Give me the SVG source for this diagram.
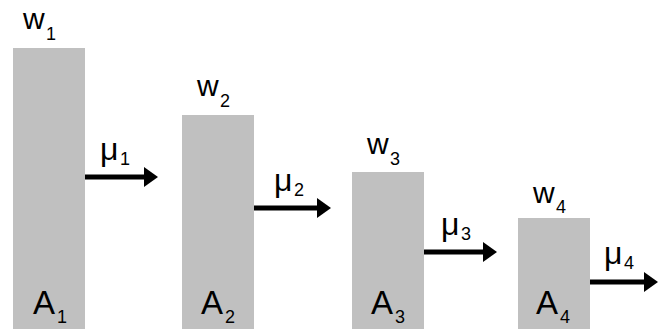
<svg xmlns="http://www.w3.org/2000/svg" width="662" height="329" viewBox="0 0 662 329">
<style>
.bar{fill:#c0c0c0}
.t{font-family:"Liberation Sans",Arial,sans-serif;fill:#000}
.big{font-size:30px}
.A{font-size:33px}
.mu{font-size:32px}
.sub{font-size:18px}
.arr{stroke:#000;stroke-width:5;fill:none;marker-end:url(#ah)}
</style>
<defs>
<marker id="ah" markerUnits="userSpaceOnUse" markerWidth="14" markerHeight="20" refX="2" refY="10" orient="auto">
<path d="M0,0 L14,10 L0,20 Z" fill="#000"/>
</marker>
</defs>
<rect width="662" height="329" fill="#fff"/>
<g id="node1">
<rect class="bar" x="13" y="48" width="72" height="281"/>
<text class="t big" x="23" y="29">w</text><text class="t sub" x="46" y="40">1</text>
<text class="t A" x="33" y="314">A</text><text class="t sub" x="57" y="323">1</text>
</g>
<g id="node2">
<rect class="bar" x="182" y="115" width="72" height="214"/>
<text class="t big" x="197" y="96">w</text><text class="t sub" x="220" y="107">2</text>
<text class="t A" x="201" y="314">A</text><text class="t sub" x="225" y="323">2</text>
</g>
<g id="node3">
<rect class="bar" x="352" y="172" width="72" height="157"/>
<text class="t big" x="367" y="154">w</text><text class="t sub" x="390" y="165">3</text>
<text class="t A" x="371" y="314">A</text><text class="t sub" x="395" y="323">3</text>
</g>
<g id="node4">
<rect class="bar" x="518" y="218" width="72" height="111"/>
<text class="t big" x="533" y="203">w</text><text class="t sub" x="556" y="213">4</text>
<text class="t A" x="536" y="314">A</text><text class="t sub" x="560" y="323">4</text>
</g>
<g id="connectors">
<line class="arr" x1="85" y1="177" x2="146" y2="177"/>
<line class="arr" x1="254" y1="208" x2="319" y2="208"/>
<line class="arr" x1="424" y1="252" x2="485" y2="252"/>
<line class="arr" x1="590" y1="282" x2="646" y2="282"/>
<text class="t mu" x="100" y="160">μ</text><text class="t sub" x="120" y="165">1</text>
<text class="t mu" x="274" y="191">μ</text><text class="t sub" x="294" y="196">2</text>
<text class="t mu" x="441" y="235">μ</text><text class="t sub" x="461" y="240">3</text>
<text class="t mu" x="604" y="264">μ</text><text class="t sub" x="624" y="269">4</text>
</g>
</svg>
